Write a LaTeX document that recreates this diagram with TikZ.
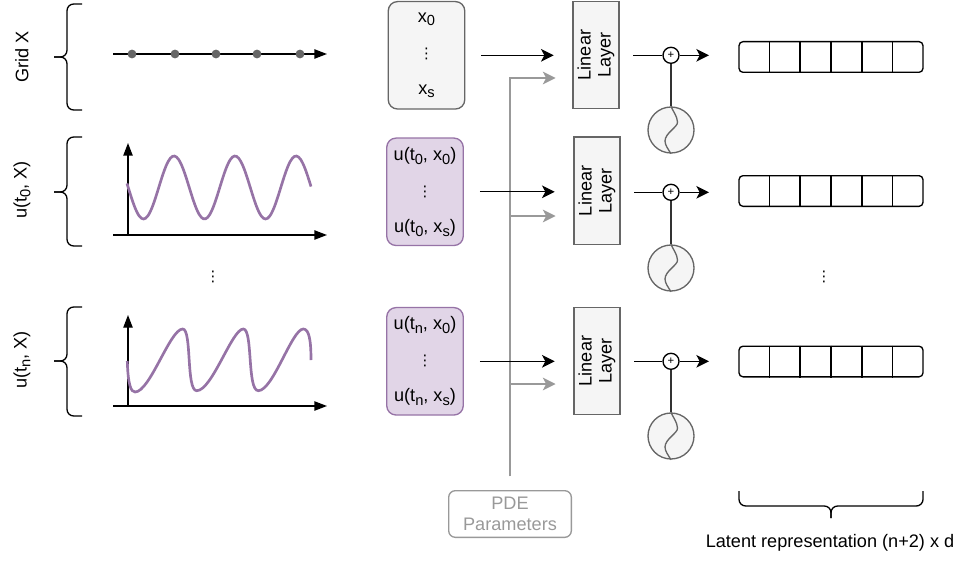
\documentclass[tikz,border=0pt]{standalone}
\usepackage{fontspec}
\setmainfont{Liberation Sans}
\newfontfamily\dotsfont{DejaVu Sans}
\usetikzlibrary{arrows.meta,positioning,calc}
\definecolor{waveline}{HTML}{9673A6}
\definecolor{wavefill}{HTML}{E1D5E7}
\definecolor{greyline}{HTML}{666666}
\definecolor{greyfill}{HTML}{F5F5F5}
\definecolor{paramline}{HTML}{999999}
\newcommand{\lowtext}[1]{\raisebox{-.4ex}{\fontsize{11}{11}\selectfont #1}}
\newcommand{\rowdots}{{\dotsfont\fontsize{11}{11}\selectfont ⋮}}
\newcommand{\cellstack}[2]{#1\\[11pt]\rowdots\\[11pt]#2}
\tikzset{
  basefont/.style={font=\fontsize{13.6}{16}\selectfont},
  cellbox/.style={basefont, draw, rounded corners=7pt, line width=1pt, align=center,
    inner sep=0pt, minimum width=57.4pt, minimum height=80.6pt},
  gridbox/.style={cellbox, draw=greyline, fill=greyfill},
  wavebox/.style={cellbox, draw=waveline, fill=wavefill},
  linbox/.style={font=\fontsize{13.6}{15}\selectfont, draw=greyline, fill=greyfill, line width=1pt,
    rotate=90, align=center, inner sep=0pt, minimum width=80.6pt, minimum height=34.5pt},
  plusnode/.style={circle, draw, fill=white, line width=1pt, inner sep=0pt, minimum size=12pt,
    font=\fontsize{8.5}{8.5}\selectfont},
  sinnode/.style={circle, draw=greyline, fill=greyfill, line width=1pt, inner sep=0pt, minimum size=34.5pt},
  latentbox/.style={draw, rounded corners=3pt, line width=1pt, inner sep=0pt,
    minimum width=138pt, minimum height=23pt},
  sidetext/.style={basefont, rotate=90},
  flow/.style={-{Stealth[length=9.5pt, width=9.5pt, inset=2.5pt]}, line width=1pt},
  param/.style={-{Stealth[length=9.5pt, width=9.5pt, inset=2.5pt]}, paramline, line width=1pt},
  axis/.style={-{Triangle[length=9.5pt, width=7pt]}, line width=1pt},
  wave/.style={waveline, line width=2pt},
  curly/.style={line width=1pt, rounded corners=5pt}
}
\begin{document}
\begin{tikzpicture}[x=0.75pt, y=-0.75pt]
  \useasboundingbox (0,0) rectangle (959,563);
  % --- side labels ---
  \node[sidetext] (gridlabel) at (22,57) {Grid X};
  \node[sidetext] (ufirstlabel) at (22,190) {u(t\lowtext{0}, X)};
  \node[sidetext] (ulastlabel) at (22,360) {u(t\lowtext{n}, X)};
  % --- curly brackets ---
  \foreach \top/\mid/\bot in {4/57/110, 137/192/246, 307/361/416} {
    \draw[curly] (82,\top) -- (67,\top) -- (67,\mid) -- (54,\mid);
    \draw[curly] (82,\bot) -- (67,\bot) -- (67,\mid) -- (54,\mid);
  }
  % --- grid line ---
  \draw[axis] (113,54) -- (327,54);
  \foreach \px in {132,175,216,257,300}
    \fill[greyline] (\px,54) circle (3.3pt);
  % --- axes of the two plots ---
  \draw[axis] (113,235) -- (327,235);
  \draw[axis] (128,235) -- (128,143);
  \draw[axis] (113,406) -- (327,406);
  \draw[axis] (128,406) -- (128,315);
  % --- curves ---
  \draw[wave, domain=127:311, smooth, samples=90]
    plot (\x, {187.5 - 31.5*sin((\x-158.75)*5.9)});
  \draw[wave] (127.3,361) .. controls (128,385) and (131,392) .. (135,392)
    .. controls (150,392) and (170,329) .. (182.7,329)
    .. controls (192,329) and (186,390.7) .. (196.7,390.7)
    .. controls (212,390.7) and (232,329) .. (243.3,329)
    .. controls (253,329) and (247,390.7) .. (258.3,390.7)
    .. controls (273,390.7) and (292,329) .. (303.3,329)
    .. controls (309,329) and (311,340) .. (311,360);
  % --- input cells ---
  \node[gridbox] (cell1) at (426.5,55.3) {\cellstack{x\lowtext{0}}{x\lowtext{s}}};
  \node[wavebox] (cell2) at (425,191.8) {\cellstack{u(t\lowtext{0}, x\lowtext{0})}{u(t\lowtext{0}, x\lowtext{s})}};
  \node[wavebox] (cell3) at (425,361.3) {\cellstack{u(t\lowtext{n}, x\lowtext{0})}{u(t\lowtext{n}, x\lowtext{s})}};
  % --- linear layers, adders, oscillators, latent rows ---
  \foreach \r/\lx/\ly/\py/\sy/\ty in {1/596/55/55.3/130/57, 2/597/190.8/192.3/268/191, 3/597/361/361.3/436/361.5} {
    \node[linbox] (lin\r) at (\lx,\ly) {Linear\\Layer};
    \node[plusnode] (plus\r) at (671,\py) {+};
    \node[sinnode] (sin\r) at (671,\sy) {};
    \node[latentbox] (latent\r) at (831,\ty) {};
    \foreach \k in {1,...,5}
      \draw[line width=1pt] ($(latent\r.north west)!\k/6!(latent\r.north east)$)
        -- ($(latent\r.south west)!\k/6!(latent\r.south east)$);
    \draw[greyline, line width=1pt] (sin\r.north) .. controls (674,\sy-17) and (677,\sy-14) .. (677.5,\sy-8)
      .. controls (678,\sy-3) and (665,\sy+3) .. (665,\sy+11)
      .. controls (665,\sy+15) and (668,\sy+19) .. (sin\r.south);
  }
  % --- PDE parameters ---
  \node[draw=paramline, text=paramline, rounded corners=5pt, line width=1pt, basefont, align=center,
    inner sep=0pt, minimum width=92pt, minimum height=35pt] (pde) at (510,514) {PDE\\Parameters};
  \coordinate (gate1) at (555.5,78);
  \coordinate (gate2) at (555.5,216);
  \coordinate (gate3) at (555.5,384);
  \foreach \r in {1,2,3}
    \draw[param, shorten <=10.5pt] (pde.north) |- (gate\r);
  % --- connectors ---
  \foreach \r in {1,2,3} {
    \draw[flow, shorten <=12pt, shorten >=14pt] (cell\r.east) -- (cell\r.east -| lin\r.north);
    \draw[line width=1pt, shorten <=10pt] (plus\r -| lin\r.south) -- (plus\r);
    \draw[flow, shorten >=22pt] (plus\r) -- (plus\r -| latent\r.west);
    \draw[greyline!50!black, line width=1.2pt] (plus\r) -- (sin\r);
  }
  % --- row dots ---
  \node (rowdotsleft) at (213,277) {\rowdots};
  \node (rowdotsright) at (824,277) {\rowdots};
  % --- latent bracket ---
  \draw[curly] (739,491) -- (739,506) -- (831,506) -- (831,518);
  \draw[curly] (923,491) -- (923,506) -- (831,506) -- (831,518);
  \node[basefont] (latentlabel) at (830,543) {Latent representation (n+2) x d};
\end{tikzpicture}
\end{document}
